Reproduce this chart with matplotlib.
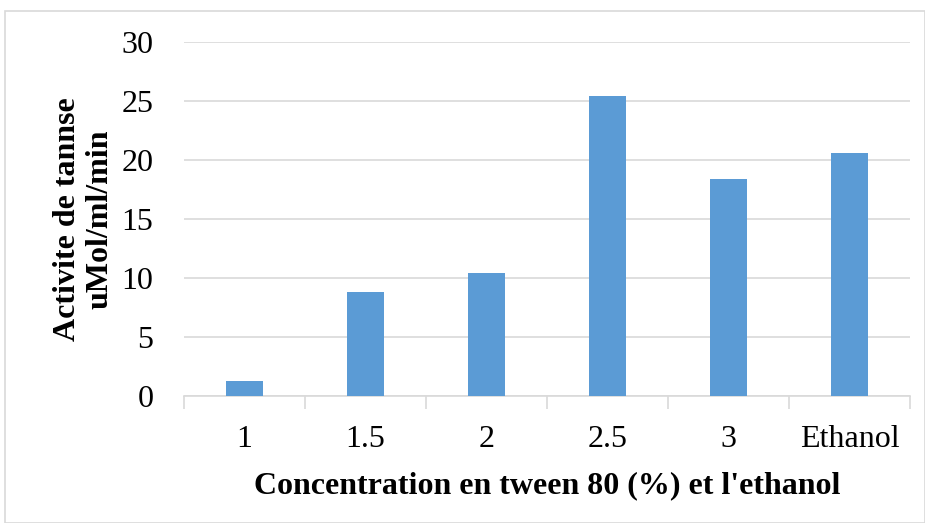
import matplotlib
matplotlib.use("Agg")
import matplotlib.pyplot as plt
from matplotlib.patches import Rectangle
import numpy as np

categories = ["1", "1.5", "2", "2.5", "3", "Ethanol"]
values = [1.25, 8.85, 10.45, 25.4, 18.35, 20.6]
yticks = [0, 5, 10, 15, 20, 25, 30]

plt.rcParams['font.family'] = ['Liberation Serif', 'DejaVu Serif']

W, H = 925, 523
fig = plt.figure(figsize=(W / 100, H / 100), dpi=100)
fig.patches.append(Rectangle((5 / W, 0.5 / H), (W - 5.5) / W, (H - 11.5) / H,
                             transform=fig.transFigure, fill=False,
                             edgecolor='#D9D9D9', linewidth=1.2))

left, right, top, bottom = 184, 910, 42, 396
ax = fig.add_axes([left / W, 1 - bottom / H, (right - left) / W, (bottom - top) / H])

x = np.arange(len(categories))
ax.bar(x, values, width=0.31, color='#5B9BD5', zorder=3)

ax.set_xlim(-0.5, len(categories) - 0.5)
ax.set_ylim(0, 30)
ax.set_yticks(yticks)
ax.set_yticklabels([str(t) for t in yticks], fontsize=23)
ax.yaxis.grid(True, color='#D9D9D9', linewidth=1.2, zorder=0)
ax.tick_params(axis='y', length=0, pad=22)

ax.set_xticks(x)
ax.set_xticklabels(categories, fontsize=23)
ax.set_xticks(np.arange(-0.5, len(categories), 1), minor=True)
ax.tick_params(axis='x', which='major', length=0, pad=21)
ax.tick_params(axis='x', which='minor', length=9, color='#D9D9D9', width=1.2)

for s in ['top', 'right', 'left']:
    ax.spines[s].set_visible(False)
ax.spines['bottom'].set_color('#D9D9D9')
ax.spines['bottom'].set_linewidth(1.2)

ax.set_xlabel("Concentration en tween 80 (%) et l'ethanol", fontsize=23,
              fontweight='bold', labelpad=12)
ax.set_ylabel("Activite de tannse\nuMol/ml/min", fontsize=23,
              fontweight='bold', labelpad=5, linespacing=1.15)

fig.savefig("out.png", dpi=100)
